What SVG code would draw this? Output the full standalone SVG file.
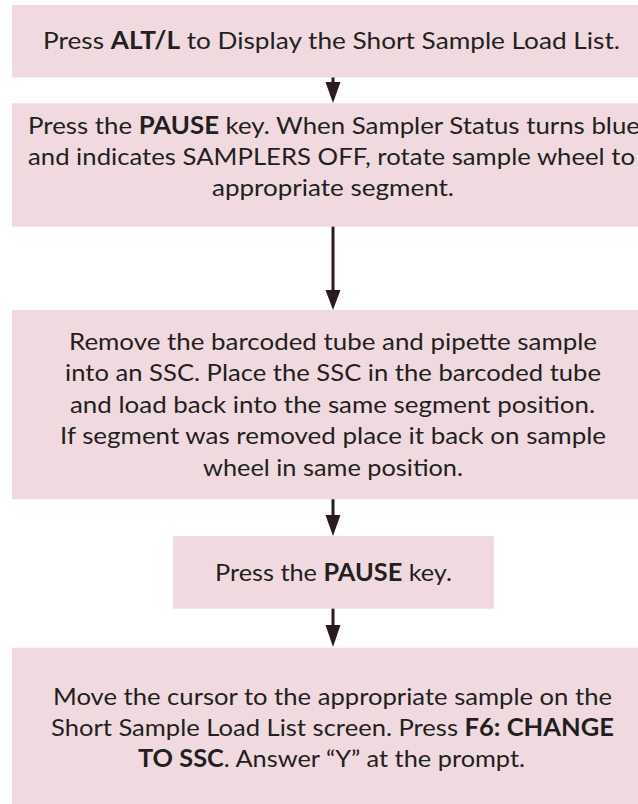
<svg xmlns="http://www.w3.org/2000/svg" width="638" height="804" viewBox="0 0 638 804">
<style>
.box{fill:#f0dae0;}
.t{font-family:Lato,"Open Sans","Liberation Sans",sans-serif;font-size:24px;fill:#231f20;}
.b{font-weight:700;}
.shaft{stroke:#2b1b20;stroke-width:3;fill:none;}
.head{fill:#2b1b20;}
</style>
<rect width="638" height="804" fill="#ffffff"/>
<g id="connectors">
<line class="shaft" x1="333" y1="77" x2="333" y2="84"/>
<polygon class="head" points="325.5,82 340.5,82 333,103"/>
<line class="shaft" x1="333" y1="226" x2="333" y2="292"/>
<polygon class="head" points="325.5,290 340.5,290 333,310"/>
<line class="shaft" x1="333" y1="499" x2="333" y2="517"/>
<polygon class="head" points="325.5,515 340.5,515 333,536"/>
<line class="shaft" x1="333" y1="608" x2="333" y2="627"/>
<polygon class="head" points="325.5,625 340.5,625 333,647"/>
</g>
<g id="node1">
<rect class="box" x="12" y="5" width="642" height="72.5"/>
<text class="t" x="43" y="49" textLength="577" lengthAdjust="spacingAndGlyphs">Press <tspan class="b">ALT/L</tspan> to Display the Short Sample Load List.</text>
</g>
<g id="node2">
<rect class="box" x="12" y="103.3" width="642" height="123.4"/>
<text class="t" x="28" y="134" textLength="612" lengthAdjust="spacingAndGlyphs">Press the <tspan class="b">PAUSE</tspan> key. When Sampler Status turns blue</text>
<text class="t" x="28" y="165" textLength="607" lengthAdjust="spacingAndGlyphs">and indicates SAMPLERS OFF, rotate sample wheel to</text>
<text class="t" x="212" y="196" textLength="242" lengthAdjust="spacingAndGlyphs">appropriate segment.</text>
</g>
<g id="node3">
<rect class="box" x="12" y="310" width="642" height="189.3"/>
<text class="t" x="69" y="350" textLength="528" lengthAdjust="spacingAndGlyphs">Remove the barcoded tube and pipette sample</text>
<text class="t" x="65" y="381" textLength="536" lengthAdjust="spacingAndGlyphs">into an SSC. Place the SSC in the barcoded tube</text>
<text class="t" x="70" y="413" textLength="525" lengthAdjust="spacingAndGlyphs">and load back into the same segment position.</text>
<text class="t" x="60" y="444" textLength="546" lengthAdjust="spacingAndGlyphs">If segment was removed place it back on sample</text>
<text class="t" x="203" y="476" textLength="260" lengthAdjust="spacingAndGlyphs">wheel in same position.</text>
</g>
<g id="node4">
<rect class="box" x="173" y="536" width="321" height="72.7"/>
<text class="t" x="215" y="581" textLength="237" lengthAdjust="spacingAndGlyphs">Press the <tspan class="b">PAUSE</tspan> key.</text>
</g>
<g id="node5">
<rect class="box" x="12" y="647.7" width="642" height="157"/>
<text class="t" x="53" y="705" textLength="559" lengthAdjust="spacingAndGlyphs">Move the cursor to the appropriate sample on the</text>
<text class="t" x="51" y="736" textLength="563" lengthAdjust="spacingAndGlyphs">Short Sample Load List screen. Press <tspan class="b">F6: CHANGE</tspan></text>
<text class="t" x="138" y="767" textLength="387" lengthAdjust="spacingAndGlyphs"><tspan class="b">TO SSC</tspan>. Answer “Y” at the prompt.</text>
</g>
</svg>
